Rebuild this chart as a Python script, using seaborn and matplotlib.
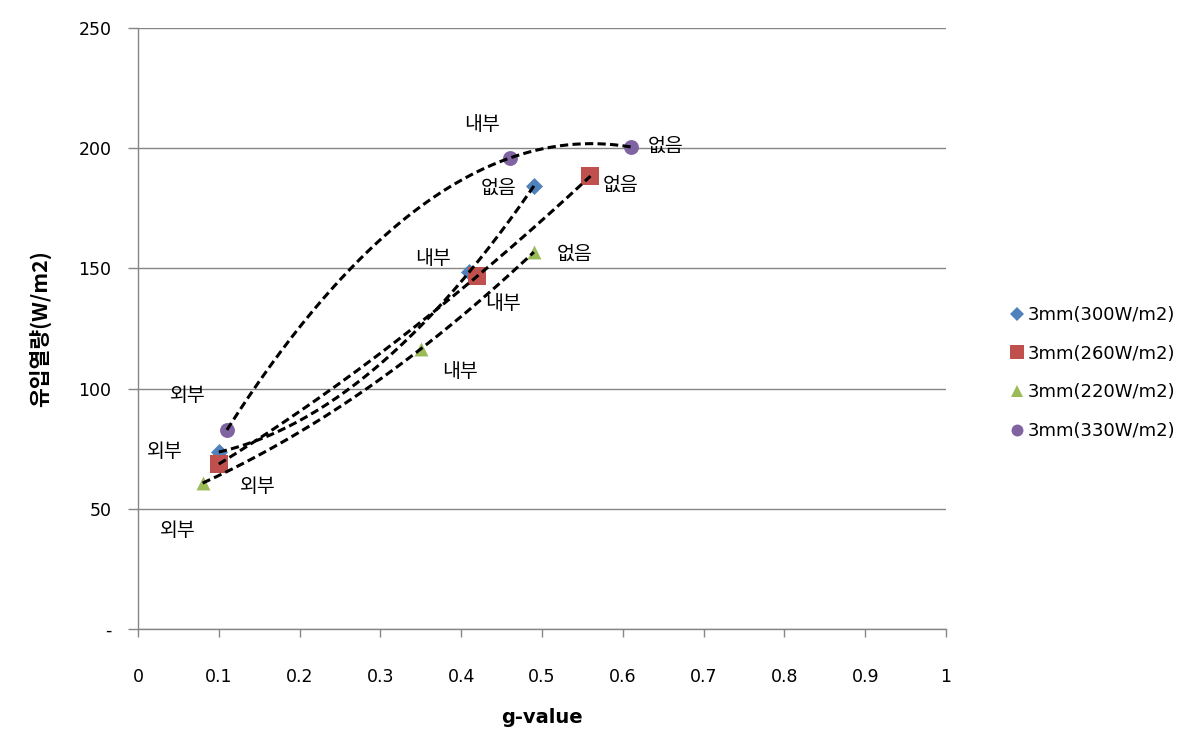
import numpy as np
import pandas as pd
import matplotlib
matplotlib.use("Agg")
import matplotlib.pyplot as plt
import seaborn as sns

# series: g-value vs 유입열량, points = 외부 / 내부 / 없음
g_300 = [0.10, 0.41, 0.49]
q_300 = [73.6, 148.5, 184.3]
g_260 = [0.10, 0.42, 0.56]
q_260 = [68.6, 146.8, 188.4]
g_220 = [0.08, 0.35, 0.49]
q_220 = [60.7, 116.5, 156.8]
g_330 = [0.11, 0.46, 0.61]
q_330 = [82.8, 195.9, 200.5]

series_names = ["3mm(300W/m2)", "3mm(260W/m2)", "3mm(220W/m2)", "3mm(330W/m2)"]
point_labels = ["외부", "내부", "없음"]
x_ticks = [0, 0.1, 0.2, 0.3, 0.4, 0.5, 0.6, 0.7, 0.8, 0.9, 1]
x_ticklabels = ["0", "0.1", "0.2", "0.3", "0.4", "0.5", "0.6", "0.7", "0.8", "0.9", "1"]
y_ticks = [0, 50, 100, 150, 200, 250]
y_ticklabels = ["-", "50", "100", "150", "200", "250"]

colors = ["#4F81BD", "#C0504D", "#9BBB59", "#8064A2"]
markers = ["D", "s", "^", "o"]
msizes = [75, 150, 100, 115]
# label offsets in pixels (dx right, dy up) for 외부/내부/없음
label_offsets = [
    [(-54, 1), (-36, 14), (-35, -2)],
    [(39, -22), (26, -27), (30, -9)],
    [(-25, -47), (39, -23), (41, -2)],
    [(-39, 34), (-28, 34), (35, 1)],
]


def smooth_line(xs, ys, n=80):
    # hermite spline through the points (like the excel smoothed line)
    xs = np.asarray(xs, float)
    ys = np.asarray(ys, float)
    h = np.diff(xs)
    s = np.diff(ys) / h
    m = np.zeros(len(xs))
    for i in range(1, len(xs) - 1):
        m[i] = (h[i] * s[i - 1] + h[i - 1] * s[i]) / (h[i - 1] + h[i])
    m[0] = 2 * s[0] - m[1]
    m[-1] = 2 * s[-1] - m[-2]
    px, py = [], []
    for i in range(len(xs) - 1):
        t = np.linspace(0, 1, n)
        h00 = 2 * t ** 3 - 3 * t ** 2 + 1
        h10 = t ** 3 - 2 * t ** 2 + t
        h01 = -2 * t ** 3 + 3 * t ** 2
        h11 = t ** 3 - t ** 2
        px.append(xs[i] + t * h[i])
        py.append(h00 * ys[i] + h10 * h[i] * m[i] + h01 * ys[i + 1] + h11 * h[i] * m[i + 1])
    return np.concatenate(px), np.concatenate(py)


sns.set_theme(style="white")
plt.rcParams["font.family"] = ["DejaVu Sans", "Noto Sans CJK KR"]
plt.rcParams["text.color"] = "black"
plt.rcParams["axes.labelcolor"] = "black"
plt.rcParams["xtick.labelcolor"] = "black"
plt.rcParams["ytick.labelcolor"] = "black"
kr_font = ["Noto Sans CJK KR", "DejaVu Sans"]

fig = plt.figure(figsize=(12.02, 7.39), dpi=100)
ax = fig.add_axes([138 / 1202, 1 - 629 / 739, 808 / 1202, 601 / 739])

gx = [g_300, g_260, g_220, g_330]
qy = [q_300, q_260, q_220, q_330]

frames = []
for name, xs, ys in zip(series_names, gx, qy):
    frames.append(pd.DataFrame({"g": xs, "q": ys, "series": name, "pos": point_labels}))
df = pd.concat(frames, ignore_index=True)

handles = []
for i, name in enumerate(series_names):
    d = df[df["series"] == name]
    sns.scatterplot(data=d, x="g", y="q", ax=ax, color=colors[i], marker=markers[i],
                    s=msizes[i], linewidth=0, zorder=3, legend=False)
    sx_, sy_ = smooth_line(d["g"].values, d["q"].values)
    ax.plot(sx_, sy_, color="black", lw=2.2, ls=(0, (2.7, 1.4)), zorder=4)
    for j, (xv, yv, lab) in enumerate(zip(d["g"], d["q"], d["pos"])):
        ax.annotate(lab, (xv, yv), xytext=label_offsets[i][j], textcoords="offset pixels",
                    ha="center", va="center", fontsize=14, color="black", family=kr_font)
    handles.append(plt.Line2D([], [], ls="none", marker=markers[i], color=colors[i],
                              markersize=np.sqrt(msizes[i]) * 0.8, markeredgewidth=0))

ax.set_xlim(0, 1)
ax.set_ylim(0, 250)
ax.set_xticks(x_ticks)
ax.set_xticklabels(x_ticklabels)
ax.set_yticks(y_ticks)
ax.set_yticklabels(y_ticklabels)
ax.yaxis.grid(True, color="#868686", lw=1)
ax.xaxis.grid(False)
for s in ["top", "right"]:
    ax.spines[s].set_visible(False)
for s in ["left", "bottom"]:
    ax.spines[s].set_color("#868686")
    ax.spines[s].set_linewidth(1)
ax.tick_params(axis="y", length=7, width=1, color="#868686", direction="out", pad=12,
               labelsize=12.5, left=True)
ax.tick_params(axis="x", length=6, width=1, color="#868686", direction="out", pad=22,
               labelsize=12.5, bottom=True)
ax.set_xlabel("g-value", fontsize=14, fontweight="bold", labelpad=16)
ax.set_ylabel("유입열량(W/m2)", fontsize=15.5, fontweight="bold", labelpad=20, family=kr_font)

fig.legend(handles, series_names, loc="center left", bbox_to_anchor=(992 / 1202, 1 - 373 / 739),
           frameon=False, fontsize=13, handletextpad=0.05, labelspacing=1.15, handlelength=1.0)

fig.savefig("out.png", dpi=100)
